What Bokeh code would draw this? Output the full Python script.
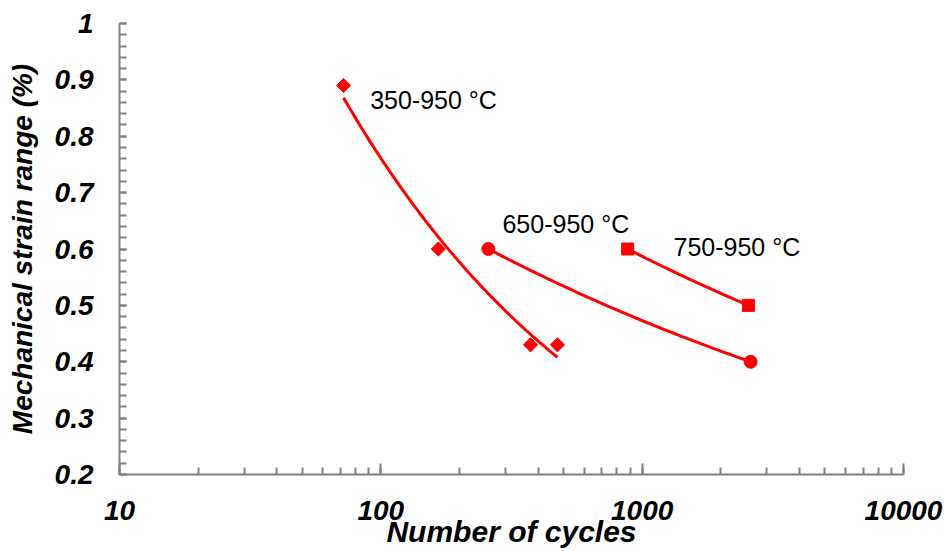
import numpy as np
from bokeh.plotting import figure
from bokeh.models import Label, FixedTicker, LogTicker
from bokeh.embed import file_html
from bokeh.resources import INLINE

# ---- data ----
series_names = ["350-950 °C", "650-950 °C", "750-950 °C"]
cycles_350 = [72, 166, 374, 474]
strain_350 = [0.89, 0.60, 0.43, 0.43]
cycles_650 = [258, 2600]
strain_650 = [0.60, 0.40]
cycles_750 = [880, 2550]
strain_750 = [0.60, 0.50]

x_tick_values = [10, 100, 1000, 10000]
x_tick_labels = ["10", "100", "1000", "10000"]
y_tick_values = [0.2, 0.3, 0.4, 0.5, 0.6, 0.7, 0.8, 0.9, 1.0]
y_tick_labels = ["0.2", "0.3", "0.4", "0.5", "0.6", "0.7", "0.8", "0.9", "1"]

x_title = "Number of cycles"
y_title = "Mechanical strain range (%)"

RED = "#ff0000"
AXIS = "#808080"
FONT = "Liberation Sans"


def power_fit(x, y):
    b, a = np.polyfit(np.log(x), np.log(y), 1)
    xs = np.logspace(np.log10(min(x)), np.log10(max(x)), 80)
    return xs, np.exp(a) * xs ** b


p = figure(width=944, height=550, x_axis_type="log",
           x_range=(10, 10000), y_range=(0.2, 1.0),
           output_backend="svg", toolbar_location=None,
           min_border_left=119, min_border_right=41,
           min_border_top=23, min_border_bottom=76)
p.outline_line_color = None
p.grid.grid_line_color = None
p.background_fill_color = "white"
p.border_fill_color = "white"

# trend lines (power fits of each series)
for cx, sy in [(cycles_350, strain_350), (cycles_650, strain_650), (cycles_750, strain_750)]:
    xs, ys = power_fit(cx, sy)
    p.line(xs, ys, line_color=RED, line_width=3)

p.scatter(cycles_350, strain_350, marker="square", angle=np.pi / 4, size=10, color=RED)
p.scatter(cycles_650, strain_650, marker="circle", size=13, color=RED)
p.scatter(cycles_750, strain_750, marker="square", size=12, color=RED)

# axes
xa = p.xaxis[0]
xa.ticker = LogTicker(num_minor_ticks=10)
xa.major_label_overrides = {v: l for v, l in zip(x_tick_values, x_tick_labels)}
ya = p.yaxis[0]
ya.ticker = FixedTicker(ticks=y_tick_values,
                        minor_ticks=list(np.round(np.arange(0.2, 1.0001, 0.02), 2)))
ya.major_label_overrides = {v: l for v, l in zip(y_tick_values, y_tick_labels)}

for ax in (xa, ya):
    ax.axis_line_color = AXIS
    ax.axis_line_width = 2
    ax.major_tick_line_color = AXIS
    ax.minor_tick_line_color = AXIS
    ax.major_tick_line_width = 2
    ax.minor_tick_line_width = 2
    ax.major_tick_out = 0
    ax.minor_tick_out = 0
    ax.major_label_text_font = FONT
    ax.major_label_text_font_style = "bold italic"
    ax.major_label_text_font_size = "28px"
    ax.major_label_text_color = "black"
    ax.major_label_text_line_height = 1.0
    ax.axis_label_text_font = FONT
    ax.axis_label_text_font_style = "bold italic"
    ax.axis_label_text_color = "black"
    ax.axis_label_text_line_height = 1.0

xa.major_tick_in = 11
xa.minor_tick_in = 7
xa.major_label_standoff = 26
xa.axis_label = x_title
xa.axis_label_text_font_size = "30px"
xa.axis_label_standoff = -8
ya.major_tick_in = 7
ya.minor_tick_in = 7
ya.major_label_standoff = 26
ya.axis_label = y_title
ya.axis_label_text_font_size = "28px"
ya.axis_label_standoff = 14

# series annotations
for (lx, ly), name in zip([(91, 0.865), (292, 0.645), (1318, 0.603)], series_names):
    p.add_layout(Label(x=lx, y=ly, text=name, text_align="left",
                       text_baseline="middle", text_font=FONT,
                       text_font_size="25px", text_color="black"))

open("out.html", "w").write(file_html(p, INLINE))
